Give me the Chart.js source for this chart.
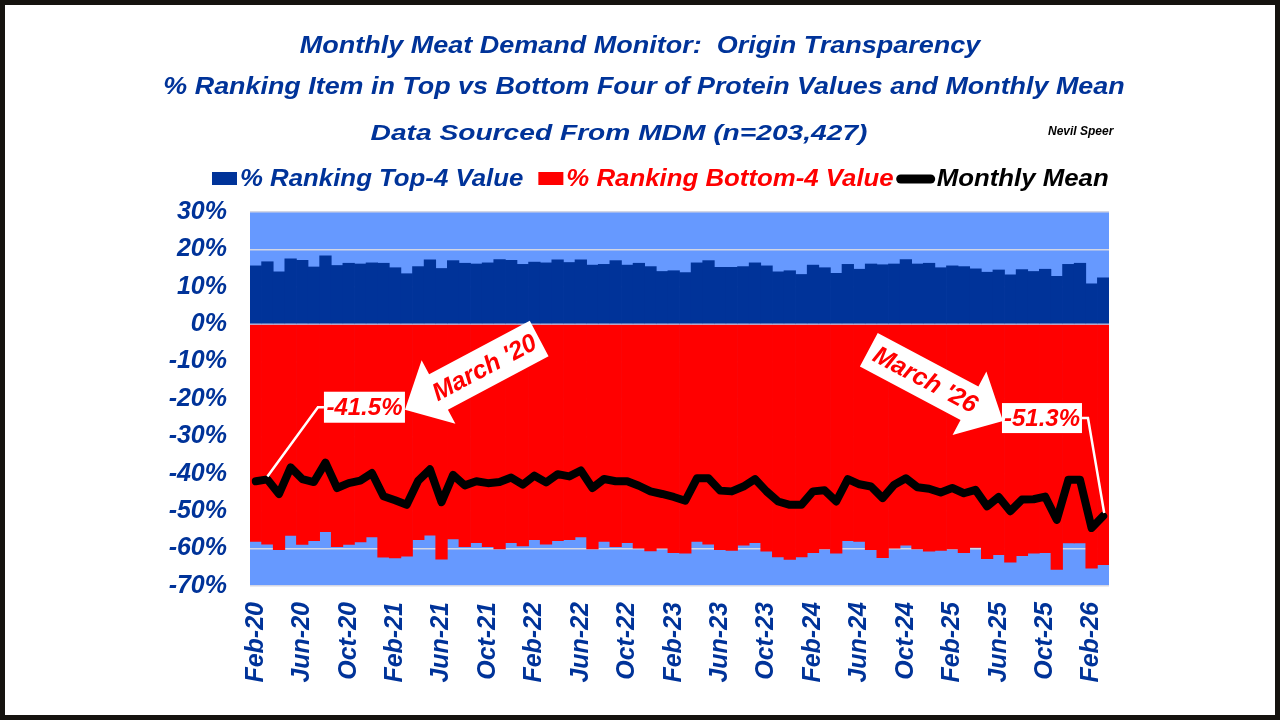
<!DOCTYPE html>
<html>
<head>
<meta charset="utf-8">
<script src="https://cdn.jsdelivr.net/npm/chart.js@4.4.1/dist/chart.umd.min.js"></script>
<style>
  html, body { margin: 0; padding: 0; background: #15130f; }
  #frame { position: absolute; left: 5px; top: 5px; width: 1270px; height: 710px; background: #fff; }
</style>
</head>
<body>
<div id="frame"><canvas id="meat-chart" width="1270" height="710"></canvas></div>
<script>
// months Feb-20 .. Mar-26
const monthNames = ["Jan", "Feb", "Mar", "Apr", "May", "Jun", "Jul", "Aug", "Sep", "Oct", "Nov", "Dec"];
const labels = [];
for (let y = 2020; y <= 2026; y++) {
  for (let m = 0; m < 12; m++) {
    if (y === 2020 && m < 1) continue;
    if (y === 2026 && m > 2) break;
    labels.push(monthNames[m] + "-" + String(y).slice(2));
  }
}

const top4 = [
  15.6, 16.7, 14.0, 17.5, 17.1, 15.3, 18.3, 15.7, 16.3, 16.1,
  16.4, 16.3, 15.1, 13.5, 15.4, 17.2, 14.9, 17.0, 16.3, 16.1,
  16.4, 17.3, 17.1, 16.0, 16.6, 16.4, 17.2, 16.5, 17.2, 15.8,
  16.0, 17.0, 15.8, 16.3, 15.4, 14.1, 14.3, 13.8, 16.4, 17.0,
  15.2, 15.2, 15.4, 16.4, 15.6, 14.0, 14.3, 13.3, 15.8, 15.1,
  13.6, 16.0, 14.7, 16.1, 15.9, 16.1, 17.3, 16.1, 16.3, 15.1,
  15.6, 15.4, 14.8, 13.9, 14.5, 13.2, 14.6, 14.1, 14.7, 12.8,
  16.0, 16.3, 10.8, 12.4,
];

const bottom4 = [
  -58.1, -58.8, -60.3, -56.5, -58.9, -57.9, -55.5, -59.5, -58.9, -58.2,
  -56.9, -62.3, -62.5, -62.0, -57.6, -56.4, -62.8, -57.4, -59.5, -58.4,
  -59.5, -60.1, -58.4, -59.3, -57.6, -58.8, -57.9, -57.6, -56.9, -60.1,
  -58.1, -59.5, -58.4, -59.9, -60.6, -59.9, -61.1, -61.2, -58.1, -58.8,
  -60.3, -60.5, -59.1, -58.4, -60.7, -62.2, -62.9, -62.2, -61.1, -60.1,
  -61.2, -57.9, -58.1, -60.3, -62.4, -59.9, -59.1, -60.1, -60.7, -60.5,
  -60.1, -61.1, -59.7, -62.7, -61.6, -63.6, -61.9, -61.2, -61.1, -65.6,
  -58.5, -58.5, -65.2, -64.3,
];

const monthlyMean = [
  -42.0, -41.5, -45.4, -38.3, -41.4, -42.2, -37.0, -43.8, -42.5, -41.8,
  -39.8, -46.0, -47.1, -48.3, -41.8, -38.8, -47.6, -40.3, -43.1, -42.0,
  -42.5, -42.2, -41.0, -42.9, -40.5, -42.3, -40.1, -40.7, -39.1, -43.8,
  -41.4, -42.0, -42.0, -43.2, -44.7, -45.4, -46.2, -47.2, -41.2, -41.2,
  -44.5, -44.7, -43.4, -41.4, -44.7, -47.4, -48.3, -48.3, -44.7, -44.4,
  -47.4, -41.4, -42.8, -43.4, -46.5, -42.9, -41.2, -43.6, -44.0, -45.0,
  -43.8, -45.2, -44.3, -48.7, -46.2, -50.0, -46.9, -46.8, -46.1, -52.3,
  -41.6, -41.6, -54.5, -51.3,
];

const DARK_BLUE = "#003399";
const LIGHT_BLUE = "#6699FF";
const RED = "#FF0000";
const FONT = '"Liberation Sans", Arial, sans-serif';

const titleLines = [
  "Monthly Meat Demand Monitor:  Origin Transparency",
  "% Ranking Item in Top vs Bottom Four of Protein Values and Monthly Mean",
];
const subTitle = "Data Sourced From MDM (n=203,427)";
const byline = "Nevil Speer";
const legendItems = [
  { text: "% Ranking Top-4 Value", color: DARK_BLUE, kind: "box" },
  { text: "% Ranking Bottom-4 Value", color: RED, kind: "box" },
  { text: "Monthly Mean", color: "#000", kind: "line" },
];

const font = (size) => `italic bold ${size}px ${FONT}`;

// the original picture is a bit wider than tall, so header text gets a horizontal stretch
function wideText(ctx, text, x, y, sx, align) {
  ctx.save();
  ctx.translate(x, y);
  ctx.scale(sx, 1);
  ctx.textAlign = align;
  ctx.fillText(text, 0, 0);
  ctx.restore();
  return ctx.measureText(text).width * sx;
}

// light blue plot background, drawn under the grid
const plotBackground = {
  id: "plotBackground",
  beforeDraw(chart) {
    const { ctx, chartArea: a } = chart;
    ctx.save();
    ctx.fillStyle = LIGHT_BLUE;
    ctx.fillRect(a.left, a.top, a.right - a.left, a.bottom - a.top);
    ctx.restore();
  },
};

// titles, byline and legend
const header = {
  id: "header",
  afterDraw(chart) {
    const ctx = chart.ctx;
    ctx.save();
    ctx.textBaseline = "middle";
    ctx.fillStyle = DARK_BLUE;
    ctx.font = font(24);
    wideText(ctx, titleLines[0], 635, 41, 1.125, "center");
    wideText(ctx, titleLines[1], 639, 82, 1.12, "center");
    ctx.font = font(22);
    wideText(ctx, subTitle, 614, 129, 1.28, "center");

    ctx.fillStyle = "#000";
    ctx.font = font(12);
    wideText(ctx, byline, 1043, 127, 1.0, "left");

    // legend
    ctx.font = font(24);
    const ly = 174;
    let x = 207;
    legendItems.forEach((it) => {
      ctx.fillStyle = it.color;
      if (it.kind === "box") {
        ctx.fillRect(x, ly - 7, 25, 13);
        x += 28;
      } else {
        ctx.strokeStyle = it.color;
        ctx.lineWidth = 9;
        ctx.lineCap = "round";
        ctx.beginPath();
        ctx.moveTo(x + 4, ly);
        ctx.lineTo(x + 34, ly);
        ctx.stroke();
        x += 40;
      }
      const w = wideText(ctx, it.text, x, ly, 1.075, "left");
      x += w + (it.kind === "box" && it.color === RED ? 3 : 15);
    });
    ctx.restore();
  },
};

function blockArrow(ctx, tip, angle, len, headLen, headW, shaftW, text, textDist) {
  ctx.save();
  ctx.translate(tip.x, tip.y);
  ctx.rotate(angle);
  ctx.beginPath();
  ctx.moveTo(0, 0);
  ctx.lineTo(headLen, -headW / 2);
  ctx.lineTo(headLen, -shaftW / 2);
  ctx.lineTo(len, -shaftW / 2);
  ctx.lineTo(len, shaftW / 2);
  ctx.lineTo(headLen, shaftW / 2);
  ctx.lineTo(headLen, headW / 2);
  ctx.closePath();
  ctx.fillStyle = "#fff";
  ctx.fill();
  ctx.translate(textDist, 0);
  if (Math.cos(angle) < 0) ctx.rotate(Math.PI);
  ctx.fillStyle = RED;
  ctx.font = font(25);
  ctx.textAlign = "center";
  ctx.textBaseline = "middle";
  ctx.fillText(text, 0, 1);
  ctx.restore();
}

function labelBox(ctx, left, cy, w, h, text) {
  ctx.fillStyle = "#fff";
  ctx.fillRect(left, cy - h / 2, w, h);
  ctx.fillStyle = RED;
  ctx.font = font(24);
  ctx.textAlign = "center";
  ctx.textBaseline = "middle";
  ctx.fillText(text, left + w / 2, cy + 1);
}

const callouts = {
  id: "callouts",
  afterDatasetsDraw(chart) {
    const { ctx, scales } = chart;
    const at = (i, v) => ({ x: scales.x.getPixelForValue(i), y: scales.y.getPixelForValue(v) });
    ctx.save();

    // thin zero line between the two bar series
    const a = chart.chartArea;
    const y0 = scales.y.getPixelForValue(0);
    ctx.strokeStyle = "#B7C3E6";
    ctx.lineWidth = 1;
    ctx.beginPath();
    ctx.moveTo(a.left, y0);
    ctx.lineTo(a.right, y0);
    ctx.stroke();

    ctx.strokeStyle = "#fff";
    ctx.lineWidth = 2.5;
    ctx.lineJoin = "miter";

    // March '20
    const b1 = at(5.87, -22.2);
    const p1 = at(1, monthlyMean[1]);
    ctx.beginPath();
    ctx.moveTo(p1.x, p1.y - 3);
    ctx.lineTo(b1.x - 6, b1.y);
    ctx.lineTo(b1.x, b1.y);
    ctx.stroke();
    labelBox(ctx, b1.x, b1.y, 81, 31, "-41.5%");
    blockArrow(ctx, at(12.85, -22.9), -28 * Math.PI / 180, 152, 38, 72, 40, "March '20", 90);

    // March '26
    const b2 = at(64.28, -25.1);
    const p2 = at(73, monthlyMean[73]);
    ctx.beginPath();
    ctx.moveTo(b2.x + 80, b2.y);
    ctx.lineTo(b2.x + 86, b2.y);
    ctx.lineTo(p2.x + 1, p2.y - 3);
    ctx.stroke();
    labelBox(ctx, b2.x, b2.y, 80, 30, "-51.3%");
    blockArrow(ctx, at(64.37, -25.9), (180 + 28) * Math.PI / 180, 152, 38, 72, 38, "March '26", 88);

    ctx.restore();
  },
};

const ctx = document.getElementById("meat-chart").getContext("2d");

const meatChart = new Chart(ctx, {
  type: "bar",
  data: {
    labels: labels,
    datasets: [
      {
        label: "Monthly Mean",
        type: "line",
        data: monthlyMean,
        borderColor: "#000",
        borderWidth: 8,
        pointRadius: 0,
        tension: 0,
        borderJoinStyle: "round",
        borderCapStyle: "round",
        order: 0,
      },
      {
        label: "% Ranking Top-4 Value",
        data: top4,
        backgroundColor: DARK_BLUE,
        grouped: false,
        categoryPercentage: 1,
        barPercentage: 1,
        order: 1,
      },
      {
        label: "% Ranking Bottom-4 Value",
        data: bottom4,
        backgroundColor: RED,
        grouped: false,
        categoryPercentage: 1,
        barPercentage: 1,
        order: 1,
      },
    ],
  },
  options: {
    responsive: false,
    animation: false,
    layout: { padding: { top: 207, right: 166, left: 0, bottom: 0 } },
    plugins: {
      legend: { display: false },
      title: { display: false },
      tooltip: { enabled: false },
    },
    scales: {
      x: {
        grid: { display: false, drawTicks: false },
        border: { display: false },
        ticks: {
          autoSkip: false,
          minRotation: 90,
          maxRotation: 90,
          padding: 16,
          color: DARK_BLUE,
          font: { family: FONT, size: 25, weight: "bold", style: "italic" },
          callback: function (value, index) {
            return index % 4 === 0 ? labels[index] : "";
          },
        },
        afterFit(scale) {
          scale.height = 129;
        },
      },
      y: {
        min: -70,
        max: 30,
        grid: { color: "#D3D6E4", lineWidth: 1.5, drawTicks: false },
        border: { display: false },
        ticks: {
          stepSize: 10,
          padding: 23,
          color: DARK_BLUE,
          font: { family: FONT, size: 25, weight: "bold", style: "italic" },
          callback: (v) => v + "%",
        },
        afterFit(scale) {
          scale.width = 245;
        },
      },
    },
  },
  plugins: [plotBackground, callouts, header],
});
</script>
</body>
</html>
